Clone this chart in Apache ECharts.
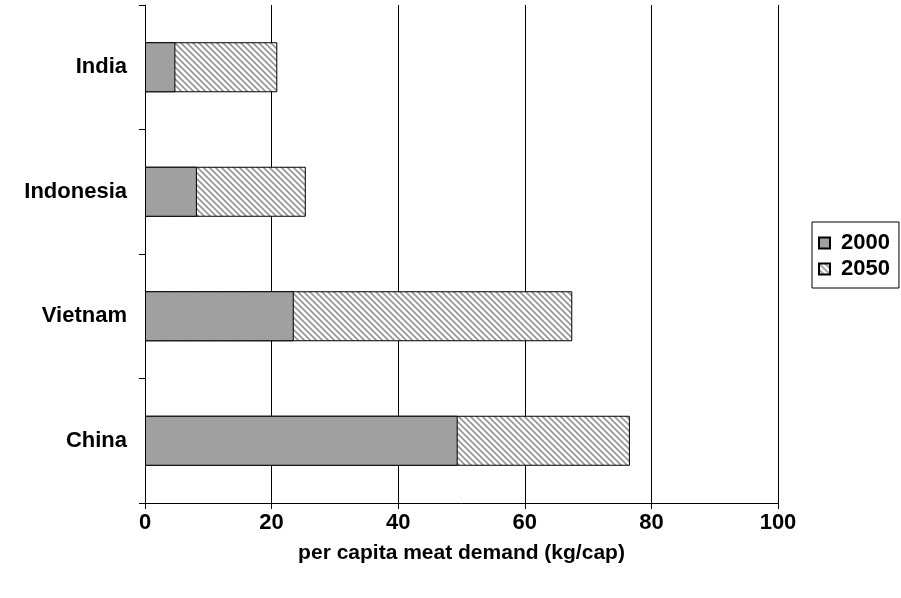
<!DOCTYPE html>
<html>
<head>
<meta charset="utf-8">
<script src="https://cdn.jsdelivr.net/npm/echarts@6/dist/echarts.min.js"></script>
<style>
html,body{margin:0;padding:0;background:#fff;}
#chart{width:901px;height:598px;}
</style>
</head>
<body>
<div id="chart"></div>
<script>
// Data (bottom to top on the category axis)
const categories = ['China', 'Vietnam', 'Indonesia', 'India'];
const demand2000 = [49.4, 23.5, 8.2, 4.8];
const demand2050 = [76.6, 67.5, 25.4, 20.9];
const xTicks = [0, 20, 40, 60, 80, 100];
const seriesNames = ['2000', '2050'];
const axisTitle = 'per capita meat demand (kg/cap)';

function makeHatch() {
  const s = 6;
  const c = document.createElement('canvas');
  c.width = s; c.height = s;
  const g = c.getContext('2d');
  g.fillStyle = '#ffffff';
  g.fillRect(0, 0, s, s);
  g.strokeStyle = '#959595';
  g.lineWidth = 1.6;
  g.beginPath();
  g.moveTo(-1, -1); g.lineTo(s + 1, s + 1);
  g.moveTo(-1, s - 1); g.lineTo(1, s + 1);
  g.moveTo(s - 1, -1); g.lineTo(s + 1, 1);
  g.stroke();
  return c;
}
const hatch = { image: makeHatch(), repeat: 'repeat' };

const font = 'Liberation Sans, Arial, sans-serif';
const fs = 22;
const chart = echarts.init(document.getElementById('chart'), null, { renderer: 'canvas' });
chart.setOption({
  animation: false,
  backgroundColor: '#ffffff',
  grid: { left: 145, right: 123, top: 5, bottom: 95, containLabel: false },
  legend: {
    orient: 'vertical',
    left: 812,
    top: 222,
    data: seriesNames,
    backgroundColor: '#fff',
    borderColor: '#000',
    borderWidth: 1,
    padding: [10, 9, 8, 6],
    itemGap: 4,
    itemWidth: 11,
    itemHeight: 11,
    icon: 'rect',
    textStyle: { fontFamily: font, fontWeight: 'bold', fontSize: fs, color: '#000', padding: [0, 0, 0, 6] }
  },
  xAxis: {
    type: 'value',
    min: xTicks[0],
    max: xTicks[xTicks.length - 1],
    interval: 20,
    name: axisTitle,
    nameLocation: 'middle',
    nameGap: 40,
    nameTextStyle: { fontFamily: font, fontWeight: 'bold', fontSize: fs - 1, color: '#000' },
    axisLine: { show: true, lineStyle: { color: '#000', width: 1 } },
    axisTick: { show: true, length: 6, lineStyle: { color: '#000' } },
    axisLabel: { margin: 9, fontFamily: font, fontWeight: 'bold', fontSize: fs, color: '#000' },
    splitLine: { show: true, lineStyle: { color: '#000', width: 1 } }
  },
  yAxis: {
    type: 'category',
    data: categories,
    axisLine: { show: true, lineStyle: { color: '#000', width: 1 } },
    axisTick: { show: true, length: 6, alignWithLabel: false, lineStyle: { color: '#000' } },
    axisLabel: { margin: 18, fontFamily: font, fontWeight: 'bold', fontSize: fs, color: '#000' },
    splitLine: { show: false }
  },
  series: [
    {
      name: seriesNames[1],
      type: 'bar',
      data: demand2050,
      barWidth: 50,
      barGap: '-100%',
      itemStyle: { color: hatch, borderColor: '#000', borderWidth: 1 },
      z: 2
    },
    {
      name: seriesNames[0],
      type: 'bar',
      data: demand2000,
      barWidth: 50,
      barGap: '-100%',
      itemStyle: { color: '#a0a0a0', borderColor: '#000', borderWidth: 1 },
      z: 3
    }
  ]
});
</script>
</body>
</html>
